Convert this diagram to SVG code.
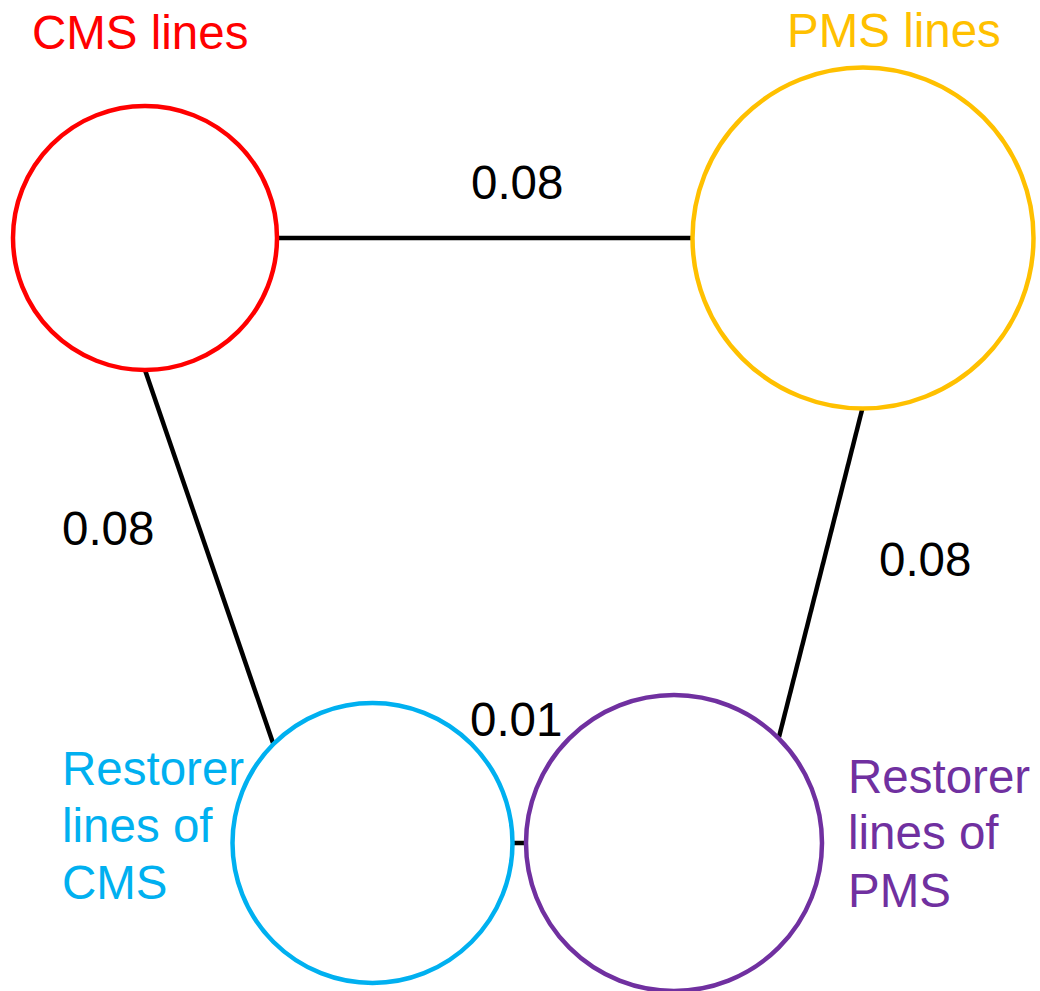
<svg xmlns="http://www.w3.org/2000/svg" width="1040" height="991" viewBox="0 0 1040 991">
<style>
.node{fill:#FFFFFF;stroke-width:4.5}
.lbl{font-family:"Liberation Sans",Arial,sans-serif;font-size:47.5px}
.edge{stroke:#000000;stroke-width:4.5;fill:none}
</style>
<rect width="1040" height="991" fill="#FFFFFF"/>
<g id="connectors">
<line class="edge" x1="278" y1="238" x2="692" y2="238"/>
<line class="edge" x1="145" y1="370" x2="273" y2="743"/>
<line class="edge" x1="862.5" y1="408" x2="779" y2="737"/>
<line class="edge" x1="513" y1="843" x2="526" y2="843"/>
<text class="lbl" x="471" y="199" fill="#000000">0.08</text>
<text class="lbl" x="62" y="545" fill="#000000">0.08</text>
<text class="lbl" x="879" y="576" fill="#000000">0.08</text>
<text class="lbl" x="470" y="736" fill="#000000">0.01</text>
</g>
<g id="cms">
<circle class="node" cx="145" cy="238" r="132" stroke="#FF0000"/>
<text class="lbl" x="32" y="49" fill="#FF0000">CMS lines</text>
</g>
<g id="pms">
<circle class="node" cx="863" cy="238" r="170.5" stroke="#FFC000"/>
<text class="lbl" x="787" y="47" fill="#FFC000">PMS lines</text>
</g>
<g id="restorer-cms">
<circle class="node" cx="372.5" cy="843" r="140" stroke="#00B0F0"/>
<text class="lbl" fill="#00B0F0"><tspan x="62" y="785">Restorer</tspan><tspan x="62" y="842">lines of</tspan><tspan x="62" y="899">CMS</tspan></text>
</g>
<g id="restorer-pms">
<circle class="node" cx="674" cy="843" r="148" stroke="#7030A0"/>
<text class="lbl" fill="#7030A0"><tspan x="848" y="793">Restorer</tspan><tspan x="848" y="849">lines of</tspan><tspan x="848" y="907">PMS</tspan></text>
</g>
</svg>
